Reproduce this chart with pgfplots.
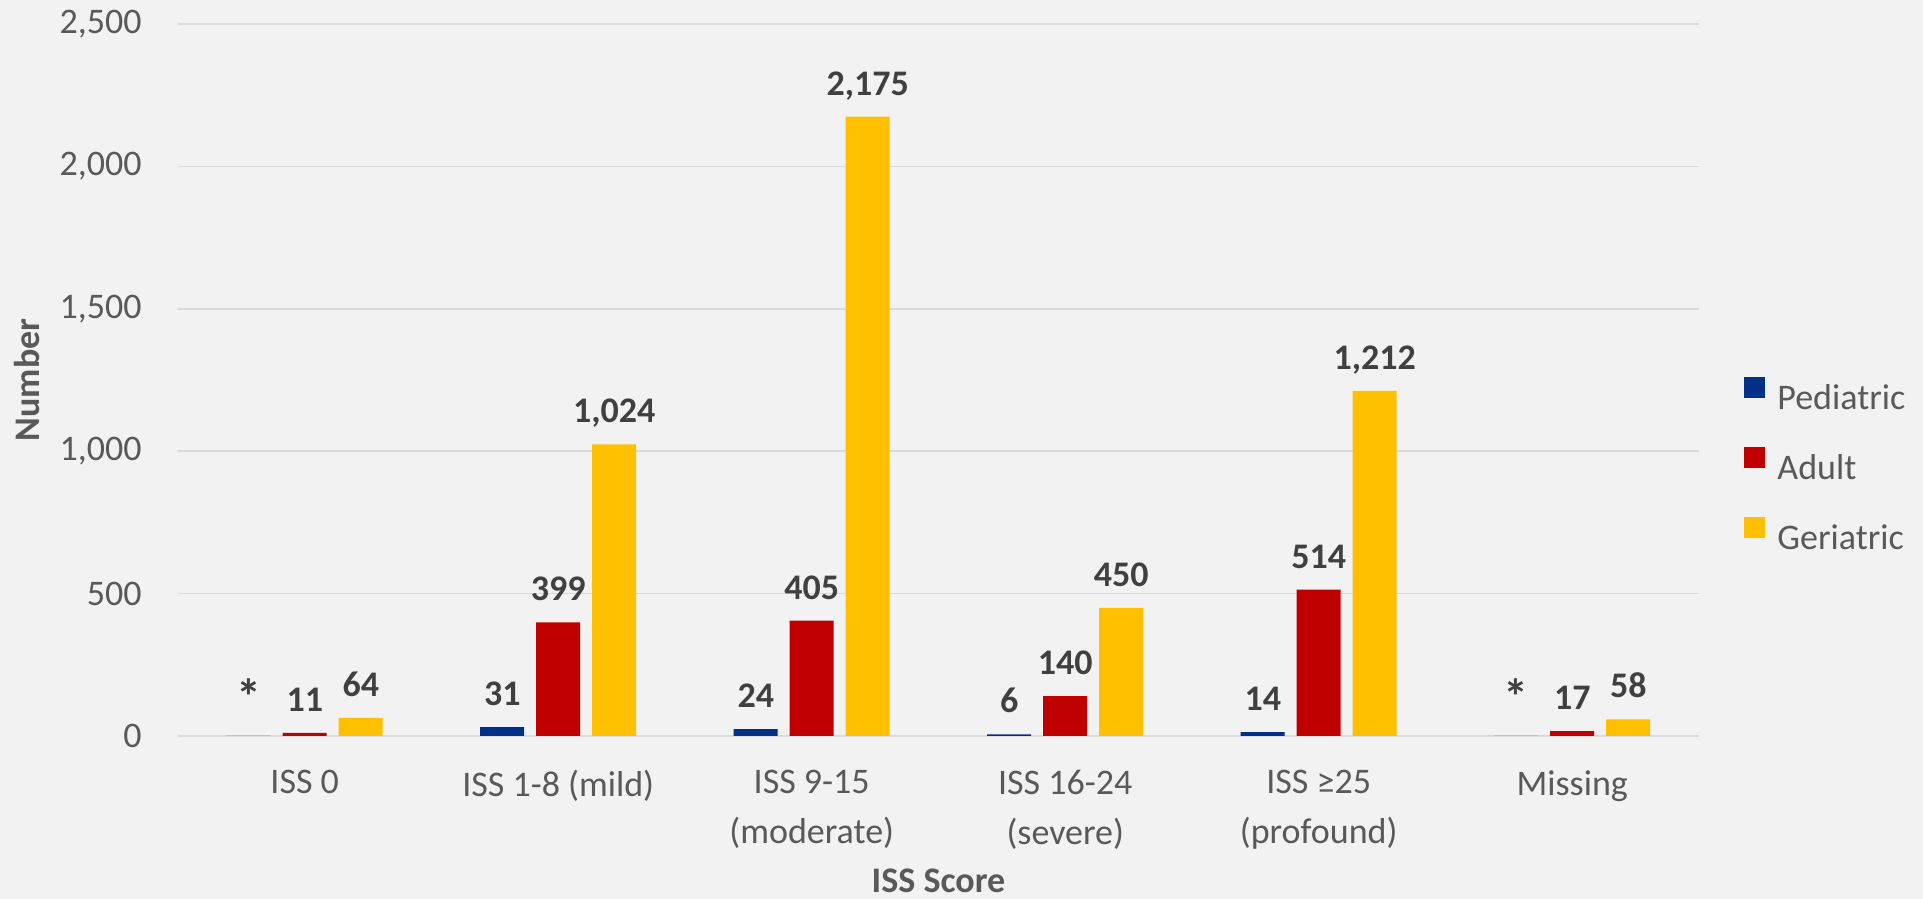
\documentclass[border=0pt]{standalone}
\usepackage{pgfplots}
\pgfplotsset{compat=1.18}
\usepackage{fontspec}
\setmainfont{Carlito}

\definecolor{bg}{HTML}{F2F2F2}
\definecolor{gridc}{HTML}{D9D9D9}
\definecolor{tickc}{HTML}{595959}
\definecolor{labc}{HTML}{404040}
\definecolor{ped}{HTML}{003087}
\definecolor{adu}{HTML}{C00000}
\definecolor{ger}{HTML}{FFC000}

% suppressed count marker
\newcommand{\supp}{{\fontsize{25}{25}\selectfont *}}

\begin{document}
\begin{tikzpicture}
  \fill[bg] (0,0) rectangle (961.5pt,449.5pt);
  \begin{axis}[
    at={(89pt,81.5pt)}, anchor=south west,
    scale only axis,
    width=760.5pt, height=356pt,
    ybar=6pt, bar width=22pt,
    xmin=-0.5, xmax=5.5,
    ymin=0, ymax=2500,
    xtick={0,...,5},
    xticklabels={ISS 0, ISS 1-8 (mild), {ISS 9-15\\[2.5pt](moderate)}, {ISS 16-24\\[2.5pt](severe)}, {ISS ≥25\\[2.5pt](profound)}, Missing},
    ytick={0,500,...,2500},
    /pgf/number format/.cd, 1000 sep={,}, assume math mode=true,
    /pgfplots/.cd,
    ymajorgrids,
    major grid style={color=gridc, line width=0.75pt},
    axis line style={draw=none},
    major tick length=0pt,
    tick label style={font=\fontsize{18}{22.5}\selectfont, text=tickc},
    xticklabel style={align=center, inner sep=0pt, anchor=north, yshift=-17pt},
    yticklabel style={inner sep=0pt, xshift=-18pt},
    xlabel={ISS Score},
    ylabel={Number},
    label style={font=\fontsize{18}{22}\selectfont\bfseries, text=tickc},
    xlabel style={at={(axis description cs:0.5,-0.203)}, anchor=center},
    ylabel style={at={(axis description cs:-0.0993,0.5)}, anchor=center},
    point meta=explicit symbolic,
    nodes near coords,
    nodes near coords style={font=\fontsize{18}{22}\selectfont\bfseries, text=labc, anchor=base, inner sep=0pt, yshift=10.75pt},
    legend style={at={(axis description cs:1.0296,0.3834)}, anchor=west,
      draw=none, fill=none, inner sep=0pt, row sep=18.5pt,
      font=\fontsize{18}{22}\selectfont, text=tickc,
      nodes={inner sep=0pt, text height=12pt, text depth=0pt},
      /tikz/every odd column/.append style={column sep=6pt}},
    legend cell align=left,
    legend image code/.code={\fill[#1,draw=none] (0pt,0pt) rectangle (10.5pt,10.5pt);},
  ]
  \addplot[fill=ped, draw=none] coordinates {
    (0,0) [\supp]
    (1,31) [31]
    (2,24) [24]
    (3,6) [6]
    (4,14) [14]
    (5,0) [\supp]
  };
  \addplot[fill=adu, draw=none] coordinates {
    (0,11) [11]
    (1,399) [399]
    (2,405) [405]
    (3,140) [140]
    (4,514) [514]
    (5,17) [17]
  };
  \addplot[fill=ger, draw=none] coordinates {
    (0,64) [64]
    (1,1024) [{1,024}]
    (2,2175) [{2,175}]
    (3,450) [450]
    (4,1212) [{1,212}]
    (5,58) [58]
  };
  \legend{Pediatric, Adult, Geriatric}
  \end{axis}
  \pgfresetboundingbox
  \useasboundingbox (0,0) rectangle (961.5pt,449.5pt);
\end{tikzpicture}
\end{document}
